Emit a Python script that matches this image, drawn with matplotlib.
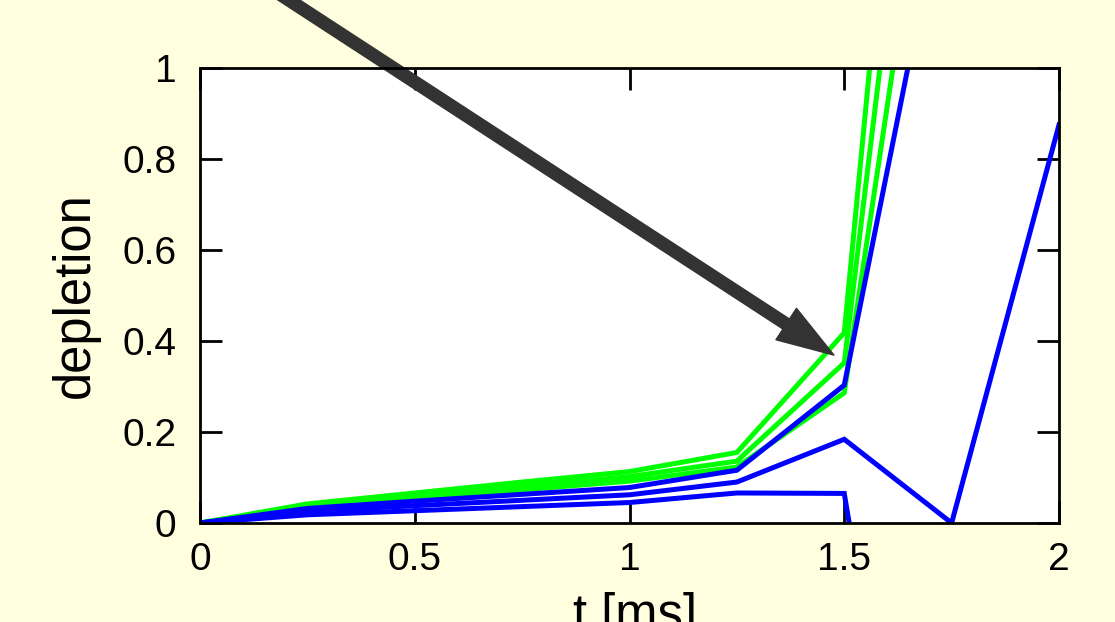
import matplotlib
matplotlib.use("Agg")
import matplotlib.pyplot as plt

plt.rcParams['font.family'] = ['Liberation Sans', 'DejaVu Sans']

# ---- data ----
t_ms = [0.0, 0.25, 0.5, 0.75, 1.0, 1.25, 1.5, 1.75, 2.0]

green_a = [0.0, 0.042, 0.066, 0.090, 0.113, 0.155, 0.418, 2.88, 5.0]
green_b = [0.0, 0.039, 0.060, 0.081, 0.102, 0.136, 0.352, 2.30, 4.5]
green_c = [0.0, 0.036, 0.055, 0.073, 0.092, 0.123, 0.286, 1.86, 4.0]

blue_a = [0.0, 0.032, 0.048, 0.063, 0.078, 0.116, 0.303, 1.48, 3.0]
blue_b = [0.0, 0.026, 0.038, 0.050, 0.062, 0.090, 0.184, 0.0, 0.875]
blue_c = [0.0, 0.018, 0.027, 0.036, 0.045, 0.066, 0.065, -1.35, -2.5]

green_series = [green_a, green_b, green_c]
blue_series = [blue_a, blue_b, blue_c]

x_ticks = [0, 0.5, 1, 1.5, 2]
x_ticklabels = ["0", "0.5", "1", "1.5", "2"]
y_ticks = [0, 0.2, 0.4, 0.6, 0.8, 1.0]
y_ticklabels = ["0", "0.2", "0.4", "0.6", "0.8", "1"]

arrow_tip = (1.476, 0.369)
arrow_tail = (0.110, 1.209)

# ---- figure ----
W, H = 1115, 622
fig = plt.figure(figsize=(W / 100, H / 100), dpi=100, facecolor="#FFFFE0")
ax = fig.add_axes([200 / W, 1 - 523 / H, 859 / W, 455 / H])
ax.set_facecolor("white")

for s in green_series:
    ax.plot(t_ms, s, color="#00FF00", lw=3.6, solid_joinstyle="miter")
for s in blue_series:
    ax.plot(t_ms, s, color="#0000FF", lw=3.6, solid_joinstyle="miter")

ax.set_xlim(0, 2)
ax.set_ylim(0, 1)
ax.set_xticks(x_ticks)
ax.set_xticklabels(x_ticklabels, fontsize=28)
ax.set_yticks(y_ticks)
ax.set_yticklabels(y_ticklabels, fontsize=28)
ax.tick_params(direction="in", length=16, width=2, top=True, right=True,
               colors="black")
ax.tick_params(axis="x", pad=14)
ax.tick_params(axis="y", pad=17)
for sp in ax.spines.values():
    sp.set_linewidth(2)
    sp.set_zorder(5)

ax.set_xlabel("t [ms]", fontsize=36.5)
ax.set_ylabel("depletion", fontsize=36.5)
ax.xaxis.set_label_coords(0.506, -0.152)
ax.yaxis.set_label_coords(-0.116, 0.5)

ax.annotate("", xy=arrow_tip, xytext=arrow_tail, xycoords="data",
            textcoords="data", annotation_clip=False,
            arrowprops=dict(arrowstyle="simple,head_length=41,head_width=27,tail_width=8.6",
                            mutation_scale=1, color="#333333", shrinkA=0, shrinkB=0,
                            clip_on=False))

fig.savefig("out.png", dpi=100, facecolor=fig.get_facecolor())
